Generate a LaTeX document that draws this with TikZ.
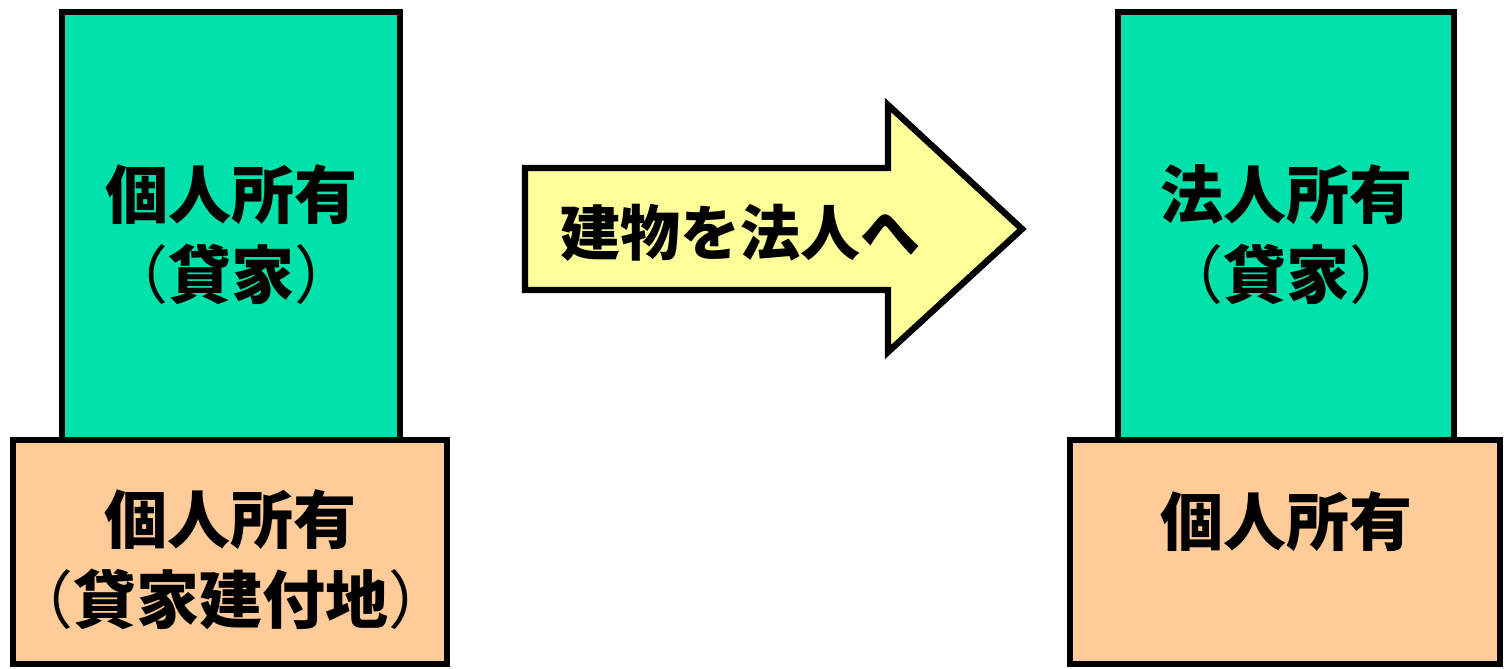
\documentclass[tikz,border=0pt]{standalone}
\usepackage{fontspec}
\setmainfont{Noto Sans CJK JP}
\definecolor{boxgreen}{RGB}{0,226,170}
\definecolor{boxorange}{RGB}{255,204,153}
\definecolor{arrowyellow}{RGB}{255,255,153}
\newcommand{\lp}{{\mdseries （}}
\newcommand{\rp}{{\mdseries ）}}
\begin{document}
\begin{tikzpicture}[x=0.5pt,y=-0.5pt,
  outline/.style={draw=black,line width=3.2pt,line join=miter},
  lbl/.style={font=\fontsize{31.5}{40}\selectfont\bfseries,align=center,inner sep=0pt}]
\useasboundingbox (0,0) rectangle (1504,669);
% left
\draw[outline,fill=boxgreen] (62,12) rectangle (400,440);
\draw[outline,fill=boxorange] (13,440) rectangle (447,664);
\node[lbl] (lg) at (231,235) {個人所有\\\lp 貸家\rp};
\node[lbl] (lo) at (231,560) {個人所有\\\lp 貸家建付地\rp};
% right
\draw[outline,fill=boxgreen] (1118,12) rectangle (1454,440);
\draw[outline,fill=boxorange] (1070,440) rectangle (1500,664);
\node[lbl] (rg) at (1286,235) {法人所有\\\lp 貸家\rp};
\node[lbl] (ro) at (1286,522) {個人所有};
% arrow
\draw[outline,fill=arrowyellow] (525,168) -- (888,168) -- (888,105) -- (1022,229)
  -- (888,352) -- (888,290) -- (525,290) -- cycle;
\node[font=\fontsize{30}{36}\selectfont\bfseries,inner sep=0pt] (at) at (740,233) {建物を法人へ};
\end{tikzpicture}
\end{document}
